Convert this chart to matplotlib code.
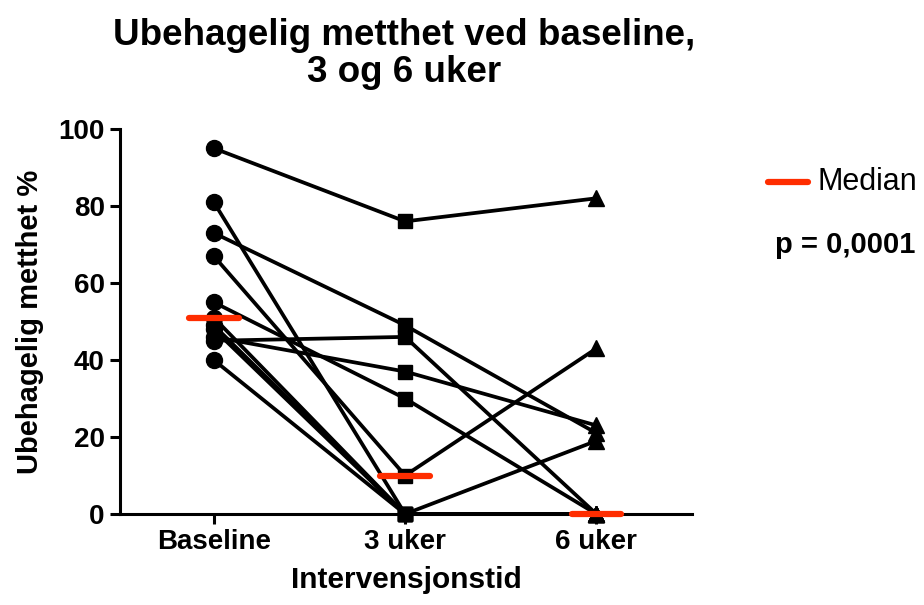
import numpy as np
import matplotlib
matplotlib.use("Agg")
import matplotlib.pyplot as plt
from matplotlib.lines import Line2D

plt.rcParams['font.family'] = ['Liberation Sans', 'DejaVu Sans']

categories = ["Baseline", "3 uker", "6 uker"]
baseline = [95, 81, 73, 67, 55, 51, 49, 48, 46, 45, 40]
uker3 = [76, 0, 49, 10, 30, 0, 0, 0, 37, 46, 0]
uker6 = [82, 19, 21, 43, 0, 0, 0, 0, 23, 0, 0]
yticks = [0, 20, 40, 60, 80, 100]

MEDIAN_RED = "#FF2D00"

fig = plt.figure(figsize=(9.24, 6.05), dpi=100)
ax = fig.add_axes([0.1299, 0.1504, 0.6191, 0.6364])

x = np.arange(len(categories))
series = [baseline, uker3, uker6]
markers = ["o", "s", "^"]
msizes = [11.5, 10.5, 11.5]

# subject trajectories
for i in range(len(baseline)):
    vals = [s[i] for s in series]
    ax.plot(x, vals, color="black", lw=2.7, zorder=2, clip_on=False)

# markers per time point
for xi, vals, m, ms in zip(x, series, markers, msizes):
    ax.plot([xi] * len(vals), vals, linestyle="none", marker=m, ms=ms,
            color="black", zorder=3, clip_on=False)

# medians
for xi, vals in zip(x, series):
    med = np.median(vals)
    ax.plot([xi - 0.13, xi + 0.13], [med, med], color=MEDIAN_RED, lw=4.5,
            solid_capstyle="round", zorder=4, clip_on=False)

ax.set_xlim(-0.49, 2.5)
ax.set_ylim(0, 100)
ax.set_xticks(x)
ax.set_xticklabels(categories, fontsize=20, fontweight="bold")
ax.set_yticks(yticks)
ax.set_yticklabels([str(t) for t in yticks], fontsize=20, fontweight="bold")

for side in ["top", "right"]:
    ax.spines[side].set_visible(False)
for side in ["left", "bottom"]:
    ax.spines[side].set_linewidth(2.2)
ax.tick_params(axis="both", width=2.2, length=7, direction="out", pad=4)

ax.set_xlabel("Intervensjonstid", fontsize=21.5, fontweight="bold", labelpad=8)
ax.set_ylabel("Ubehagelig metthet %", fontsize=21, fontweight="bold", labelpad=10)

fig.text(0.437, 1 - 54 / 605, "Ubehagelig metthet ved baseline,\n3 og 6 uker",
         ha="center", va="center", fontsize=26.5, fontweight="bold",
         linespacing=1.1)

# legend and p-value
fig.add_artist(Line2D([768 / 924, 808 / 924], [1 - 182 / 605, 1 - 182 / 605],
                      color=MEDIAN_RED, lw=4.5, solid_capstyle="round",
                      transform=fig.transFigure))
fig.text(818 / 924, 1 - 182 / 605, "Median", ha="left", va="center",
         fontsize=22)
fig.text(775 / 924, 1 - 245 / 605, "p = 0,0001", ha="left", va="center",
         fontsize=21, fontweight="bold")

fig.savefig("out.png", dpi=100)
